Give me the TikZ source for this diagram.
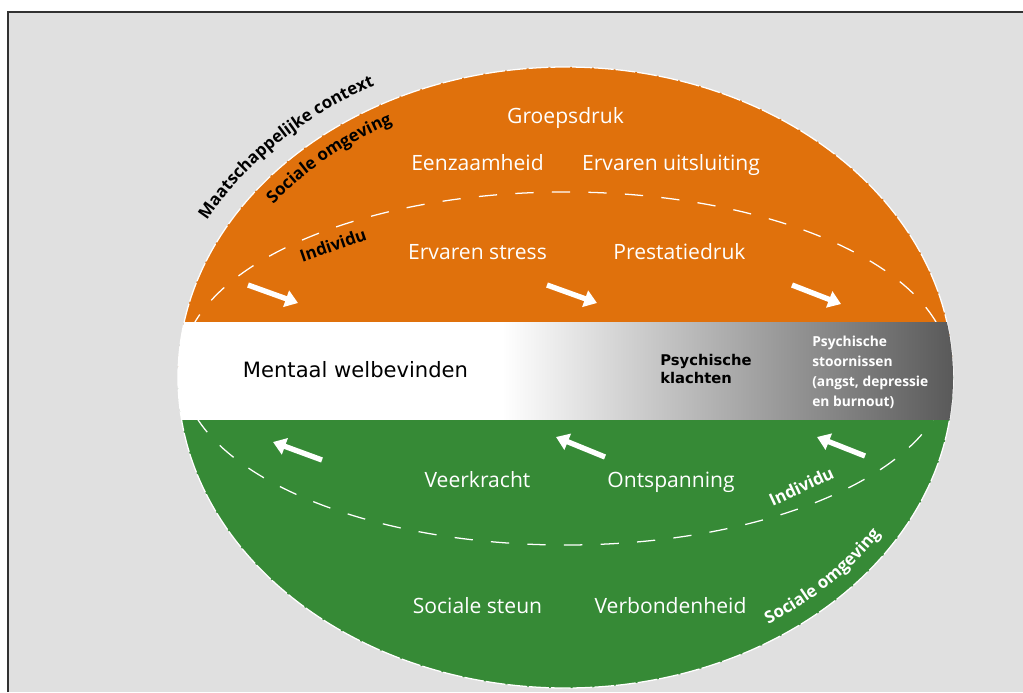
\documentclass[tikz,border=0pt]{standalone}
\usepackage{fontspec}
\setmainfont{Open Sans}
\newfontfamily\verdana{DejaVu Sans}
\usetikzlibrary{arrows.meta,decorations.text}
\definecolor{oranje}{RGB}{224,113,12}
\definecolor{groen}{RGB}{54,138,54}
\definecolor{achtergrond}{RGB}{224,224,224}
\definecolor{kader}{RGB}{50,50,50}
\pgfdeclarehorizontalshading{bandkleur}{100bp}{color(0bp)=(white); color(25bp)=(white); color(46bp)=(white); color(75bp)=(black!66); color(100bp)=(black!66)}

\begin{document}
\begin{tikzpicture}[x=0.025cm, y=-0.025cm,
	factor/.style={text=white, font=\fontsize{15}{18}\selectfont, anchor=base},
	laag/.style={font=\bfseries\fontsize{12}{14}\selectfont, anchor=base},
	boog/.style={decorate, decoration={text along path, text align=center, text={|\bfseries\fontsize{12}{14}\selectfont|#1}}},
	boogwit/.style={decorate, decoration={text along path, text align=center, text color=white, text={|\bfseries\fontsize{12}{14}\selectfont|#1}}},
	pijl/.style={white, line width=3.8pt, -{Triangle[length=9pt,width=12pt]}},
	]
	\useasboundingbox (0,0) rectangle (1023,692);
	\fill[achtergrond] (8,12) rectangle (1023,692);
	\draw[kader, line width=1.8pt] (8,692) -- (8,12) -- (1023,12);

	%Ellips
	\begin{scope}
	\clip (565.5,377.5) ellipse [x radius=387.5, y radius=310.5];
	\fill[oranje] (170,60) rectangle (960,370);
	\fill[groen] (170,370) rectangle (960,700);
	\draw[white, line width=0.9pt, dash pattern=on 13pt off 13pt] (565.5,368.5) ellipse [x radius=384, y radius=176.5];
	\end{scope}
	\draw[white, line width=0.9pt, dash pattern=on 14pt off 1.5pt] (565.5,377.5) ellipse [x radius=387.5, y radius=310.5];
	\begin{scope}
	\clip (565.5,377.5) ellipse [x radius=387.5, y radius=310.5];
	\shade[shading=bandkleur] (170,322) rectangle (960,419);
	\end{scope}

	%Nodes
	\node[factor] (groepsdruk)    at (565.5,123) {Groepsdruk};
	\node[factor] (eenzaamheid)   at (477.5,170) {Eenzaamheid};
	\node[factor] (uitsluiting)   at (671,170)   {Ervaren uitsluiting};
	\node[factor] (stress)        at (477.5,259) {Ervaren stress};
	\node[factor] (prestatiedruk) at (679.5,259) {Prestatiedruk};
	\node[factor] (veerkracht)    at (477.5,487) {Veerkracht};
	\node[factor] (ontspanning)   at (671,487)   {Ontspanning};
	\node[factor] (steun)         at (477.5,613) {Sociale steun};
	\node[factor] (verbondenheid) at (670.5,613) {Verbondenheid};

	\node[anchor=base, font=\verdana\fontsize{15}{18}\selectfont] (welbevinden) at (355.5,377) {Mentaal welbevinden};
	\node[anchor=base west, align=left, inner sep=0pt, font=\verdana\bfseries\fontsize{10.5}{12.8}\selectfont] (klachten) at (660,383) {Psychische\\klachten};
	\node[anchor=base west, align=left, inner sep=0pt, text=white, font=\bfseries\fontsize{9.8}{14.2}\selectfont] (stoornissen) at (812,406) {Psychische\\stoornissen\\(angst, depressie\\en burnout)};

	\node[laag, rotate=19]   (individuboven) at (335,251)   {Individu};
	\node[laag, text=white, rotate=25] (individuonder) at (804,492) {Individu};

	%Lagen langs de rand
	\path[boog={Maatschappelijke context}] (205.0,223.4) .. controls (243.8,163.8) and (304.2,115.1) .. (378.0,84.1);
	\path[boog={Sociale omgeving}] (270.2,207.5) .. controls (303.4,171.5) and (346.8,142.1) .. (396.8,121.6);
	\path[boogwit={Sociale omgeving}] (768.9,623.9) .. controls (813.8,600.6) and (851.7,570.0) .. (880.2,534.0);

	%Pijlen
	\coordinate (o1) at (248,285); \coordinate (o1e) at (298,303);
	\coordinate (o2) at (547,285); \coordinate (o2e) at (597,303);
	\coordinate (o3) at (792,285); \coordinate (o3e) at (841,304);
	\coordinate (g1) at (322,460); \coordinate (g1e) at (273,442);
	\coordinate (g2) at (605,457); \coordinate (g2e) at (556,437);
	\coordinate (g3) at (865,456); \coordinate (g3e) at (817,437);
	\draw[pijl] (o1) -- (o1e);
	\draw[pijl] (o2) -- (o2e);
	\draw[pijl] (o3) -- (o3e);
	\draw[pijl] (g1) -- (g1e);
	\draw[pijl] (g2) -- (g2e);
	\draw[pijl] (g3) -- (g3e);
\end{tikzpicture}
\end{document}
